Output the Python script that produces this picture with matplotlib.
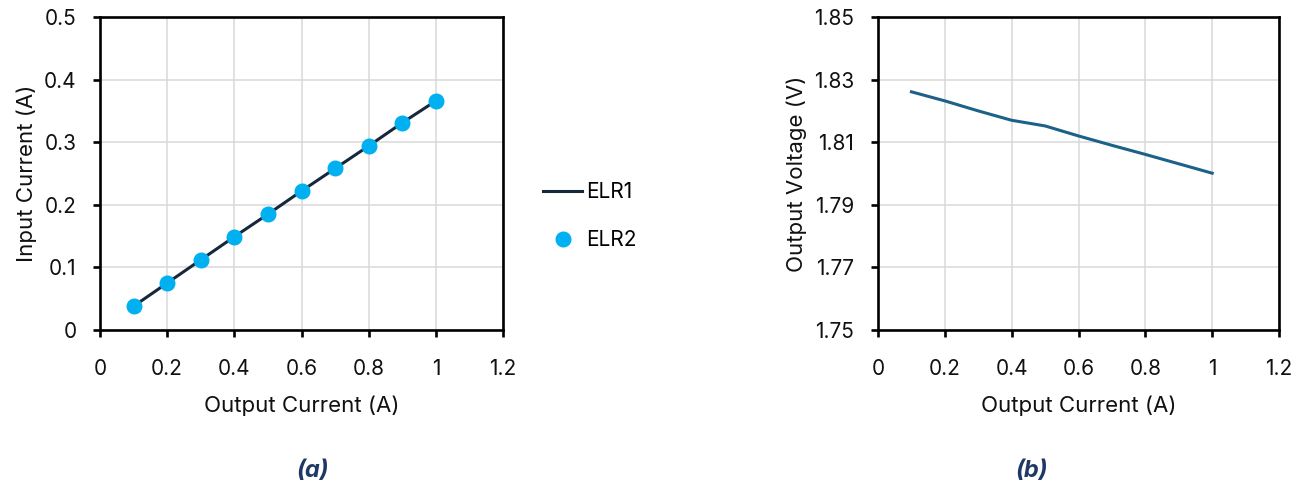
import numpy as np
import matplotlib.pyplot as plt

plt.rcParams['font.family'] = ['Inter', 'DejaVu Sans']

# (a) input current vs output current
iout_a = [0.1, 0.2, 0.3, 0.4, 0.5, 0.6, 0.7, 0.8, 0.9, 1.0]
iin_elr1 = [0.038, 0.075, 0.112, 0.149, 0.185, 0.222, 0.258, 0.294, 0.331, 0.366]
iin_elr2 = [0.038, 0.075, 0.112, 0.149, 0.185, 0.222, 0.258, 0.294, 0.331, 0.366]

# (b) output voltage vs output current
iout_b = [0.1, 0.2, 0.3, 0.4, 0.5, 0.6, 0.7, 0.8, 0.9, 1.0]
vout = [1.8261, 1.8232, 1.8200, 1.8170, 1.8152, 1.8120, 1.8090, 1.8061, 1.8031, 1.8001]

xticks = [0, 0.2, 0.4, 0.6, 0.8, 1, 1.2]
xtick_labels = ['0', '0.2', '0.4', '0.6', '0.8', '1', '1.2']
yticks_a = [0, 0.1, 0.2, 0.3, 0.4, 0.5]
ytick_labels_a = ['0', '0.1', '0.2', '0.3', '0.4', '0.5']
yticks_b = [1.75, 1.77, 1.79, 1.81, 1.83, 1.85]
ytick_labels_b = ['1.75', '1.77', '1.79', '1.81', '1.83', '1.85']

W, H = 1302, 488
fig = plt.figure(figsize=(W / 100, H / 100), dpi=100)
ax1 = fig.add_axes([100 / W, 1 - 330 / H, 403 / W, 313 / H])
ax2 = fig.add_axes([878 / W, 1 - 330 / H, 401 / W, 313 / H])


def style(ax, yt, ytl, ylabel):
    ax.set_xlim(0, 1.2)
    ax.set_xticks(xticks)
    ax.set_xticklabels(xtick_labels)
    ax.set_ylim(yt[0], yt[-1])
    ax.set_yticks(yt)
    ax.set_yticklabels(ytl)
    ax.grid(True, color='#d9d9d9', linewidth=1.1)
    ax.set_axisbelow(True)
    for s in ax.spines.values():
        s.set_linewidth(1.9)
        s.set_color('black')
    ax.tick_params(axis='both', direction='out', length=5, width=1.9,
                   labelsize=15, color='black', labelcolor='#111111')
    ax.tick_params(axis='x', pad=16)
    ax.tick_params(axis='y', pad=12)
    ax.set_xlabel('Output Current (A)', fontsize=16, labelpad=12, color='#111111')
    ax.set_ylabel(ylabel, fontsize=16, labelpad=5, color='#111111')


ax1.plot(iout_a, iin_elr1, color='#17283d', linewidth=2.2, label='ELR1')
ax1.plot(iout_a, iin_elr2, linestyle='none', marker='o', markersize=10.5,
         color='#00b0f0', label='ELR2')
style(ax1, yticks_a, ytick_labels_a, 'Input Current (A)')

ax2.plot(iout_b, vout, color='#1c6189', linewidth=2.2)
style(ax2, yticks_b, ytick_labels_b, 'Output Voltage (V)')

ax1.legend(loc='center left', bbox_to_anchor=(524 / W, 1 - 216 / H),
           bbox_transform=fig.transFigure, frameon=False, fontsize=15,
           handlelength=1.9, handletextpad=0.2, labelspacing=1.35)

fig.text(313 / W, 1 - 471 / H, '(a)', ha='center', va='center', fontsize=17,
         fontweight='bold', style='italic', color='#1f3864')
fig.text(1032 / W, 1 - 471 / H, '(b)', ha='center', va='center', fontsize=17,
         fontweight='bold', style='italic', color='#1f3864')

fig.savefig('out.png', dpi=100)
